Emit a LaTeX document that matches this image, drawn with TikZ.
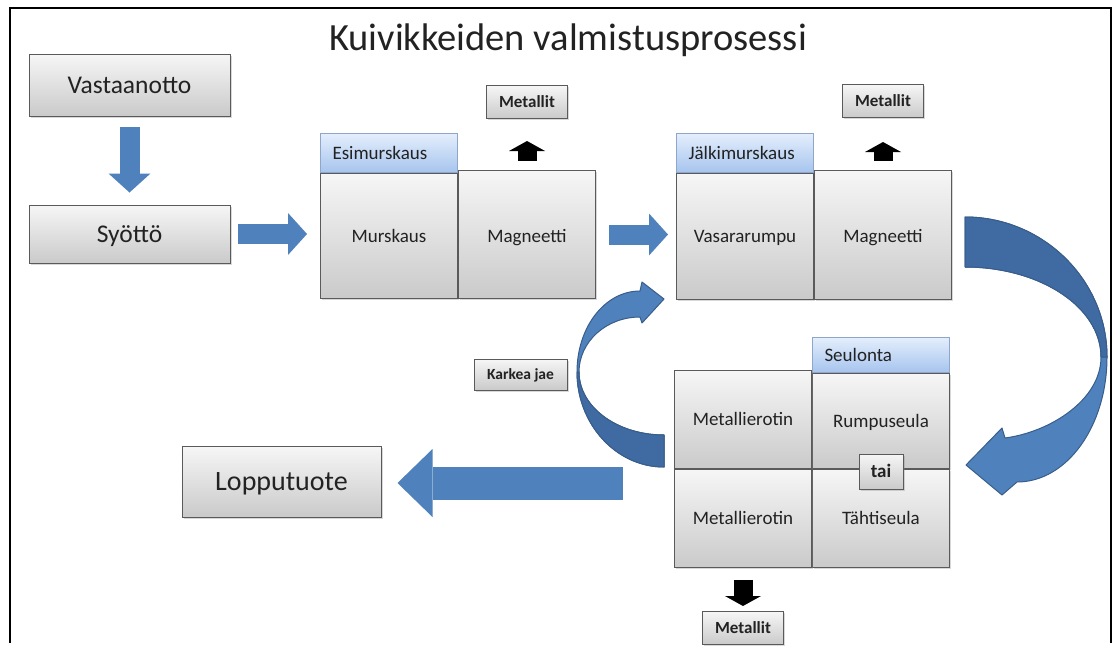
\documentclass[tikz,border=0pt]{standalone}
\usepackage{fontspec}
\setmainfont{Carlito}
\usetikzlibrary{arrows.meta,positioning,shadows}

\definecolor{flowblue}{HTML}{4F81BD}
\definecolor{flowdark}{HTML}{3F6BA2}
\definecolor{flowline}{HTML}{385D8A}
\definecolor{boxtop}{HTML}{F6F6F6}
\definecolor{boxbot}{HTML}{CACACA}
\definecolor{boxline}{HTML}{5A5A5A}
\definecolor{tabtop}{HTML}{E4EEFC}
\definecolor{tabbot}{HTML}{A6C4EE}
\definecolor{tabline}{HTML}{8DA6CA}
\definecolor{ink}{HTML}{222222}

\begin{document}
\begin{tikzpicture}[x=1pt,y=-1pt,
    box/.style={draw=boxline,line width=1pt,top color=boxtop,bottom color=boxbot,text=ink,inner sep=0pt,
      text depth=0pt,drop shadow={shadow xshift=1.5pt,shadow yshift=-1.5pt,opacity=0.3}},
    bigbox/.style={box,minimum width=201pt,text height=16.4pt,font=\fontsize{25.5}{30}\selectfont},
    cell/.style={box,minimum width=137pt,text height=12.2pt,font=\fontsize{19}{23}\selectfont},
    tab/.style={draw=tabline,line width=1pt,top color=tabtop,bottom color=tabbot,text=ink,
      inner sep=0pt,inner xsep=12pt,text width=113pt,align=left,minimum height=39pt,
      text height=12.2pt,text depth=0pt,font=\fontsize{19}{23}\selectfont},
    metbox/.style={box,minimum width=81pt,minimum height=33pt,text height=11pt,
      font=\bfseries\fontsize{17}{20}\selectfont},
    flow/.style={draw=flowblue,line width=20pt,-{Triangle[length=19pt,width=42pt,line width=0pt]}},
    waste/.style={draw=black,line width=19pt,-{Triangle[length=10pt,width=36pt,line width=0pt]}},
    bandarrow/.style={fill=flowblue,draw=flowline,line width=1pt,line join=round}]

  \fill[white] (0,0) rectangle (1116,643);
  \draw[line width=2pt] (10,643) -- (10,8) -- (1111,8) -- (1111,643);

  \node[font=\fontsize{38.5}{44}\selectfont,text=ink,anchor=base] (title) at (568,50) {Kuivikkeiden valmistusprosessi};

  % input and output
  \node[bigbox,minimum height=62pt] (vastaanotto) at (129.5,85) {Vastaanotto};
  \node[bigbox,minimum height=58pt] (syotto) at (129.5,234) {Syöttö};
  \node[bigbox,minimum width=199pt,minimum height=71pt,text height=18pt,font=\fontsize{28}{33}\selectfont]
    (lopputuote) at (281.5,481.5) {Lopputuote};

  % esimurskaus
  \node[tab,anchor=north west] (esitab) at (320,133) {Esimurskaus};
  \node[cell,minimum height=125pt,anchor=north west] (murskaus) at (esitab.south west) {Murskaus};
  \node[cell,minimum height=128pt,text height=15pt,anchor=south west] (magn1) at (murskaus.south east) {Magneetti};
  \node[metbox,above=51pt of magn1] (met1) {Metallit};

  % jalkimurskaus
  \node[tab,anchor=north west] (jalkitab) at (676,133) {Jälkimurskaus};
  \node[cell,minimum height=126pt,anchor=north west] (vasara) at (jalkitab.south west) {Vasararumpu};
  \node[cell,minimum height=129pt,text height=15pt,anchor=south west] (magn2) at (vasara.south east) {Magneetti};
  \node[metbox,above=52pt of magn2] (met2) {Metallit};

  % seulonta
  \node[tab,minimum height=35pt,anchor=north west] (seutab) at (812,337) {Seulonta};
  \node[cell,minimum height=95pt,anchor=north west] (rumpu) at (seutab.south west) {Rumpuseula};
  \node[cell,minimum height=98pt,anchor=south east] (metal1) at (rumpu.south west) {Metallierotin};
  \node[cell,minimum height=98pt,anchor=north west] (tahti) at (rumpu.south west) {Tähtiseula};
  \node[cell,minimum height=98pt,anchor=north east] (metal2) at (tahti.north west) {Metallierotin};
  \node[box,minimum width=44pt,minimum height=35pt,text height=12.2pt,font=\bfseries\fontsize{19}{22}\selectfont]
    (tai) at ([yshift=-2.5pt]rumpu.south) {tai};
  \node[metbox,below=43pt of metal2] (met3) {Metallit};

  \node[metbox,minimum width=93pt,minimum height=31pt,text height=10pt,font=\bfseries\fontsize{15.5}{18}\selectfont]
    (karkea) at (520.5,374.5) {Karkea jae};

  % straight flow
  \draw[flow,shorten <=10pt,shorten >=12pt] (vastaanotto) -- (syotto);
  \draw[flow,shorten <=7pt,shorten >=13pt] (syotto) -- (syotto -| murskaus.west);
  \draw[flow,shorten <=13pt,shorten >=8pt] (magn1) -- (magn1 -| vasara.west);
  \coordinate (lopputail) at (623,483);
  \draw[flow,line width=33pt,-{Triangle[length=35pt,width=68pt,line width=0pt]},shorten >=16pt]
    (lopputail) -- (lopputail -| lopputuote.east);

  % metals out
  \draw[waste,shorten <=9pt,shorten >=22pt] (magn1) -- (met1);
  \draw[waste,shorten <=9pt,shorten >=24pt] (magn2) -- (met2);
  \draw[waste,shorten <=12pt,shorten >=5pt] (metal2) -- (met3);

  % curved arrows
  \path[bandarrow] (965,217) .. controls (1043,217) and (1107,280) .. (1107,357)
    .. controls (1107,426) and (1067,482) .. (1017,482)
    -- (1002,495) -- (966,465) -- (1002,428) -- (1005,438)
    .. controls (1050,432) and (1101,400) .. (1101,357)
    .. controls (1101,307) and (1040,267) .. (965,267) -- cycle;
  \path[bandarrow,fill=flowdark] (965,217) .. controls (1043,217) and (1107,280) .. (1107,357)
    -- (1101,357) .. controls (1101,307) and (1040,267) .. (965,267) -- cycle;

  \path[bandarrow] (664,467) .. controls (616,467) and (577,424) .. (577,372)
    .. controls (577,327) and (605,291) .. (640,291)
    -- (642,282) -- (664,299) -- (642,323) -- (640,317)
    .. controls (606,317) and (579,342) .. (579,372)
    .. controls (579,407) and (617,435) .. (664,435) -- cycle;
  \path[bandarrow,fill=flowdark] (664,467) .. controls (616,467) and (577,424) .. (577,372)
    -- (579,372) .. controls (579,407) and (617,435) .. (664,435) -- cycle;
\end{tikzpicture}
\end{document}
